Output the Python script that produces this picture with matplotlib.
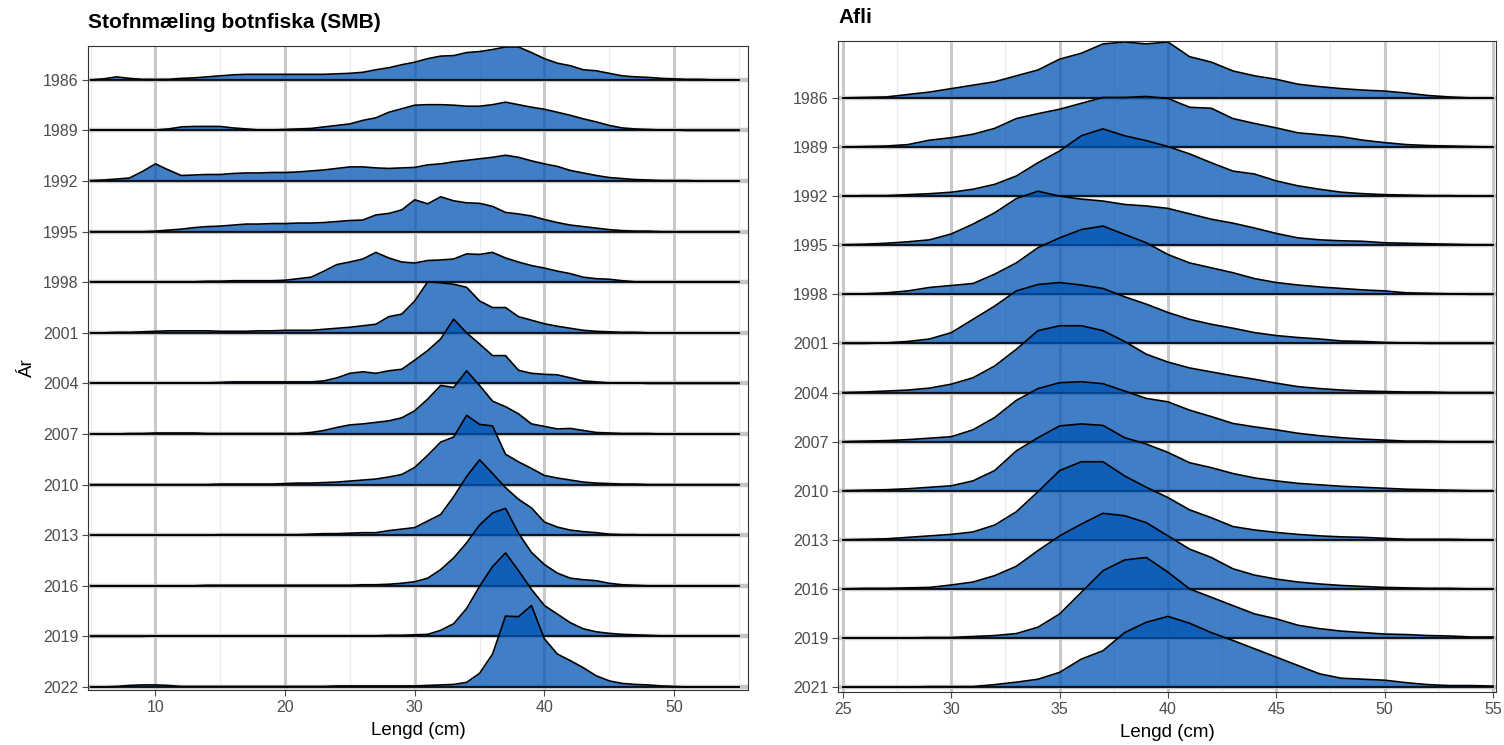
import numpy as np
import matplotlib
matplotlib.use("Agg")
import matplotlib.pyplot as plt

plt.rcParams['font.family'] = ['Liberation Sans', 'DejaVu Sans']

# relative height of each length bin, in percent of the row spacing
smb_years = [1986, 1989, 1992, 1995, 1998, 2001, 2004, 2007, 2010, 2013, 2016, 2019, 2022]
smb_lengths = list(range(5, 56))
smb = {
    1986: [0, 2, 6, 3, 1, 1, 1, 3, 4, 6, 8, 10, 11, 11, 11, 11, 11, 11, 11, 12, 13, 15, 20, 24, 30, 35, 42, 47, 48, 54,
           56, 60, 65, 65, 54, 42, 33, 28, 20, 18, 13, 8, 6, 5, 3, 2, 1, 1, 0, 0, 0],
    1989: [1, 1, 1, 1, 1, 1, 3, 7, 8, 8, 8, 5, 3, 1, 1, 2, 3, 4, 7, 10, 13, 20, 25, 36, 43, 50, 51, 51, 50, 48,
           48, 51, 56, 51, 46, 42, 36, 30, 23, 17, 10, 5, 3, 2, 1, 1, 0, 0, 0, 0, 0],
    1992: [1, 2, 4, 6, 19, 34, 22, 11, 12, 13, 13, 15, 16, 16, 17, 17, 18, 20, 22, 25, 28, 28, 26, 25, 26, 27, 32, 34, 38, 41,
           44, 47, 51, 47, 40, 34, 29, 21, 16, 11, 7, 5, 3, 2, 1, 1, 1, 0, 0, 0, 0],
    1995: [0, 0, 0, 0, 0, 1, 3, 5, 8, 10, 11, 13, 15, 15, 16, 16, 17, 17, 18, 20, 22, 23, 33, 36, 43, 63, 55, 69, 61, 57,
           56, 50, 38, 35, 31, 24, 18, 13, 10, 7, 4, 2, 1, 1, 0, 0, 0, 0, 0, 0, 0],
    1998: [1, 1, 1, 1, 1, 1, 1, 1, 1, 2, 2, 3, 3, 3, 3, 4, 7, 10, 22, 35, 40, 46, 59, 48, 40, 38, 43, 44, 46, 56,
           55, 59, 48, 40, 33, 28, 22, 17, 10, 7, 6, 3, 1, 1, 1, 1, 1, 1, 1, 1, 1],
    2001: [0, 0, 1, 1, 2, 3, 4, 4, 4, 4, 3, 3, 3, 4, 4, 5, 5, 5, 7, 9, 11, 14, 17, 32, 37, 63, 101, 99, 96, 90,
           63, 50, 50, 32, 25, 18, 13, 9, 5, 3, 2, 1, 1, 0, 0, 0, 0, 0, 0, 0, 0],
    2004: [1, 1, 1, 1, 1, 1, 1, 1, 1, 1, 2, 3, 3, 3, 3, 3, 3, 3, 5, 11, 20, 23, 20, 25, 28, 46, 65, 88, 127, 100,
           78, 55, 55, 26, 20, 18, 17, 11, 5, 3, 1, 1, 1, 0, 0, 0, 0, 0, 0, 0, 0],
    2007: [0, 0, 0, 1, 1, 2, 2, 2, 2, 1, 1, 1, 1, 1, 1, 1, 1, 3, 7, 13, 18, 20, 23, 26, 32, 46, 69, 96, 92, 125,
           96, 65, 54, 40, 20, 15, 10, 11, 7, 3, 2, 1, 1, 1, 0, 0, 0, 0, 0, 0, 0],
    2010: [0, 0, 0, 0, 0, 0, 0, 0, 0, 0, 1, 1, 1, 1, 1, 2, 3, 3, 4, 5, 7, 9, 11, 15, 20, 34, 58, 84, 94, 137,
           119, 116, 60, 45, 32, 18, 13, 9, 5, 3, 2, 1, 1, 0, 0, 0, 0, 0, 0, 0, 0],
    2013: [0, 0, 0, 0, 0, 0, 0, 0, 0, 0, 1, 1, 1, 1, 1, 1, 1, 2, 3, 3, 4, 5, 5, 9, 12, 15, 28, 41, 76, 116,
           149, 122, 94, 71, 54, 26, 16, 10, 7, 5, 2, 1, 1, 0, 0, 0, 0, 0, 0, 0, 0],
    2016: [0, 0, 0, 0, 0, 0, 0, 0, 0, 1, 1, 1, 1, 1, 1, 1, 1, 1, 1, 1, 1, 2, 2, 3, 5, 8, 15, 32, 55, 85,
           120, 144, 153, 104, 66, 42, 25, 15, 12, 10, 5, 2, 1, 0, 0, 0, 0, 0, 0, 0, 0],
    2019: [0, 0, 0, 0, 0, 1, 1, 1, 1, 1, 1, 1, 1, 1, 1, 1, 1, 1, 1, 1, 1, 1, 1, 2, 2, 3, 4, 12, 25, 55,
           99, 138, 165, 130, 93, 61, 44, 27, 15, 9, 6, 4, 3, 2, 1, 1, 1, 1, 1, 1, 1],
    2022: [0, 0, 1, 3, 4, 4, 3, 1, 1, 1, 1, 1, 1, 1, 1, 1, 1, 1, 1, 2, 2, 2, 2, 2, 2, 2, 3, 4, 5, 9,
           27, 65, 140, 139, 161, 95, 65, 52, 38, 22, 12, 7, 5, 4, 2, 1, 0, 0, 0, 0, 0],
}

afli_years = [1986, 1989, 1992, 1995, 1998, 2001, 2004, 2007, 2010, 2013, 2016, 2019, 2021]
afli_lengths = list(range(25, 56))
afli = {
    1986: [0, 1, 2, 7, 12, 19, 26, 33, 45, 57, 79, 91, 110, 114, 110, 114, 84, 73, 55, 45, 38, 28, 23, 19, 16, 14, 10, 5, 2, 0, 0],
    1989: [0, 1, 2, 5, 14, 19, 26, 38, 58, 68, 77, 89, 101, 101, 103, 99, 81, 79, 58, 48, 39, 29, 25, 21, 14, 9, 5, 3, 2, 1, 0],
    1992: [0, 1, 1, 3, 5, 8, 14, 24, 41, 68, 92, 123, 137, 123, 113, 101, 86, 68, 51, 45, 31, 21, 14, 8, 5, 3, 2, 1, 1, 0, 0],
    1995: [1, 2, 4, 7, 11, 23, 43, 66, 95, 110, 100, 94, 90, 83, 80, 75, 64, 53, 45, 35, 24, 15, 11, 9, 8, 5, 4, 3, 2, 1, 1],
    1998: [0, 1, 3, 7, 14, 18, 22, 41, 64, 95, 115, 132, 139, 122, 105, 81, 64, 54, 44, 32, 24, 19, 15, 12, 9, 7, 3, 2, 1, 0, 0],
    2001: [0, 0, 1, 4, 9, 22, 49, 76, 107, 120, 124, 119, 112, 95, 80, 63, 49, 39, 31, 22, 16, 12, 9, 5, 4, 2, 1, 0, 0, 0, 0],
    2004: [0, 1, 3, 5, 9, 17, 30, 54, 88, 126, 136, 136, 126, 104, 78, 62, 50, 42, 34, 27, 19, 12, 8, 5, 3, 2, 1, 1, 0, 0, 0],
    2007: [0, 1, 2, 4, 7, 10, 24, 49, 84, 108, 120, 122, 118, 103, 88, 81, 64, 51, 37, 30, 24, 17, 12, 8, 5, 3, 1, 1, 0, 0, 0],
    2010: [0, 1, 2, 4, 7, 10, 20, 41, 81, 108, 132, 136, 133, 108, 95, 78, 57, 47, 35, 26, 20, 15, 12, 9, 7, 5, 3, 2, 1, 0, 0],
    2013: [0, 1, 2, 5, 8, 11, 16, 30, 57, 98, 141, 159, 159, 130, 107, 86, 61, 45, 27, 20, 15, 11, 8, 6, 5, 3, 1, 1, 1, 0, 0],
    2016: [0, 1, 1, 2, 3, 8, 14, 27, 46, 78, 108, 132, 154, 149, 135, 108, 81, 64, 41, 28, 20, 14, 10, 7, 5, 3, 2, 1, 1, 0, 0],
    2019: [0, 0, 0, 0, 1, 1, 3, 5, 9, 22, 49, 93, 137, 159, 164, 134, 100, 83, 66, 49, 39, 26, 19, 14, 11, 8, 7, 5, 4, 2, 2],
    2021: [0, 0, 0, 0, 1, 1, 1, 5, 10, 16, 30, 57, 74, 111, 132, 144, 130, 111, 95, 78, 61, 44, 27, 18, 16, 14, 9, 5, 3, 3, 2],
}

FILL = '#0054b4'
W, H = 1504, 745


def px_axes(fig, x0, y0, x1, y1):
    # rectangle given in image pixels (top-left origin)
    return fig.add_axes([x0 / W, 1 - y1 / H, (x1 - x0) / W, (y1 - y0) / H])


def ridges(ax, years, lengths, data, xlim, top, bottom, major, minor, title):
    n = len(years)
    x = np.array(lengths, dtype=float)
    ax.set_xlim(*xlim)
    ax.set_ylim(-bottom, n - 1 + top)

    for v in major:
        ax.axvline(v, color='#c9c9c9', lw=2.2, zorder=0)
    for v in minor:
        ax.axvline(v, color='#ececec', lw=0.9, zorder=0)
    for i in range(n):
        ax.axhline(n - 1 - i, color='#c6c6c6', lw=3.2, zorder=0)

    for i, yr in enumerate(years):
        base = n - 1 - i
        y = base + np.array(data[yr]) / 100.0
        z = 2 + i
        ax.fill_between(x, base, y, color=FILL, alpha=0.75, lw=0, zorder=z)
        ax.plot(x, y, color='black', lw=1.2, zorder=z + 0.5)
        ax.plot([x[0], x[-1]], [base, base], color='black', lw=1.2, zorder=z + 0.5)

    ax.set_yticks([n - 1 - i for i in range(n)])
    ax.set_yticklabels([str(y) for y in years])
    ax.set_xticks(major)
    ax.tick_params(axis='both', colors='#4d4d4d', labelsize=11.5, length=4, width=0.8,
                   labelcolor='#4d4d4d', pad=3)
    for s in ax.spines.values():
        s.set_color('#333333')
        s.set_linewidth(0.8)
    ax.set_xlabel('Lengd (cm)', fontsize=13.5, labelpad=5)
    ax.set_title(title, loc='left', fontsize=15, fontweight='bold', pad=13)


fig = plt.figure(figsize=(W / 100, H / 100), dpi=100)

ax1 = px_axes(fig, 88, 46, 748, 690)
ridges(ax1, smb_years, smb_lengths, smb, (4.8, 55.7), 0.67, 0.06,
       [10, 20, 30, 40, 50], [5, 15, 25, 35, 45, 55], 'Stofnmæling botnfiska (SMB)')
ax1.set_ylabel('Ár', fontsize=13.5, labelpad=5)

ax2 = px_axes(fig, 838, 41, 1496, 692)
ridges(ax2, afli_years, afli_lengths, afli, (24.77, 55.14), 1.16, 0.1,
       [25, 30, 35, 40, 45, 50, 55], [27.5, 32.5, 37.5, 42.5, 47.5, 52.5], 'Afli')

fig.savefig('out.png', dpi=100)
